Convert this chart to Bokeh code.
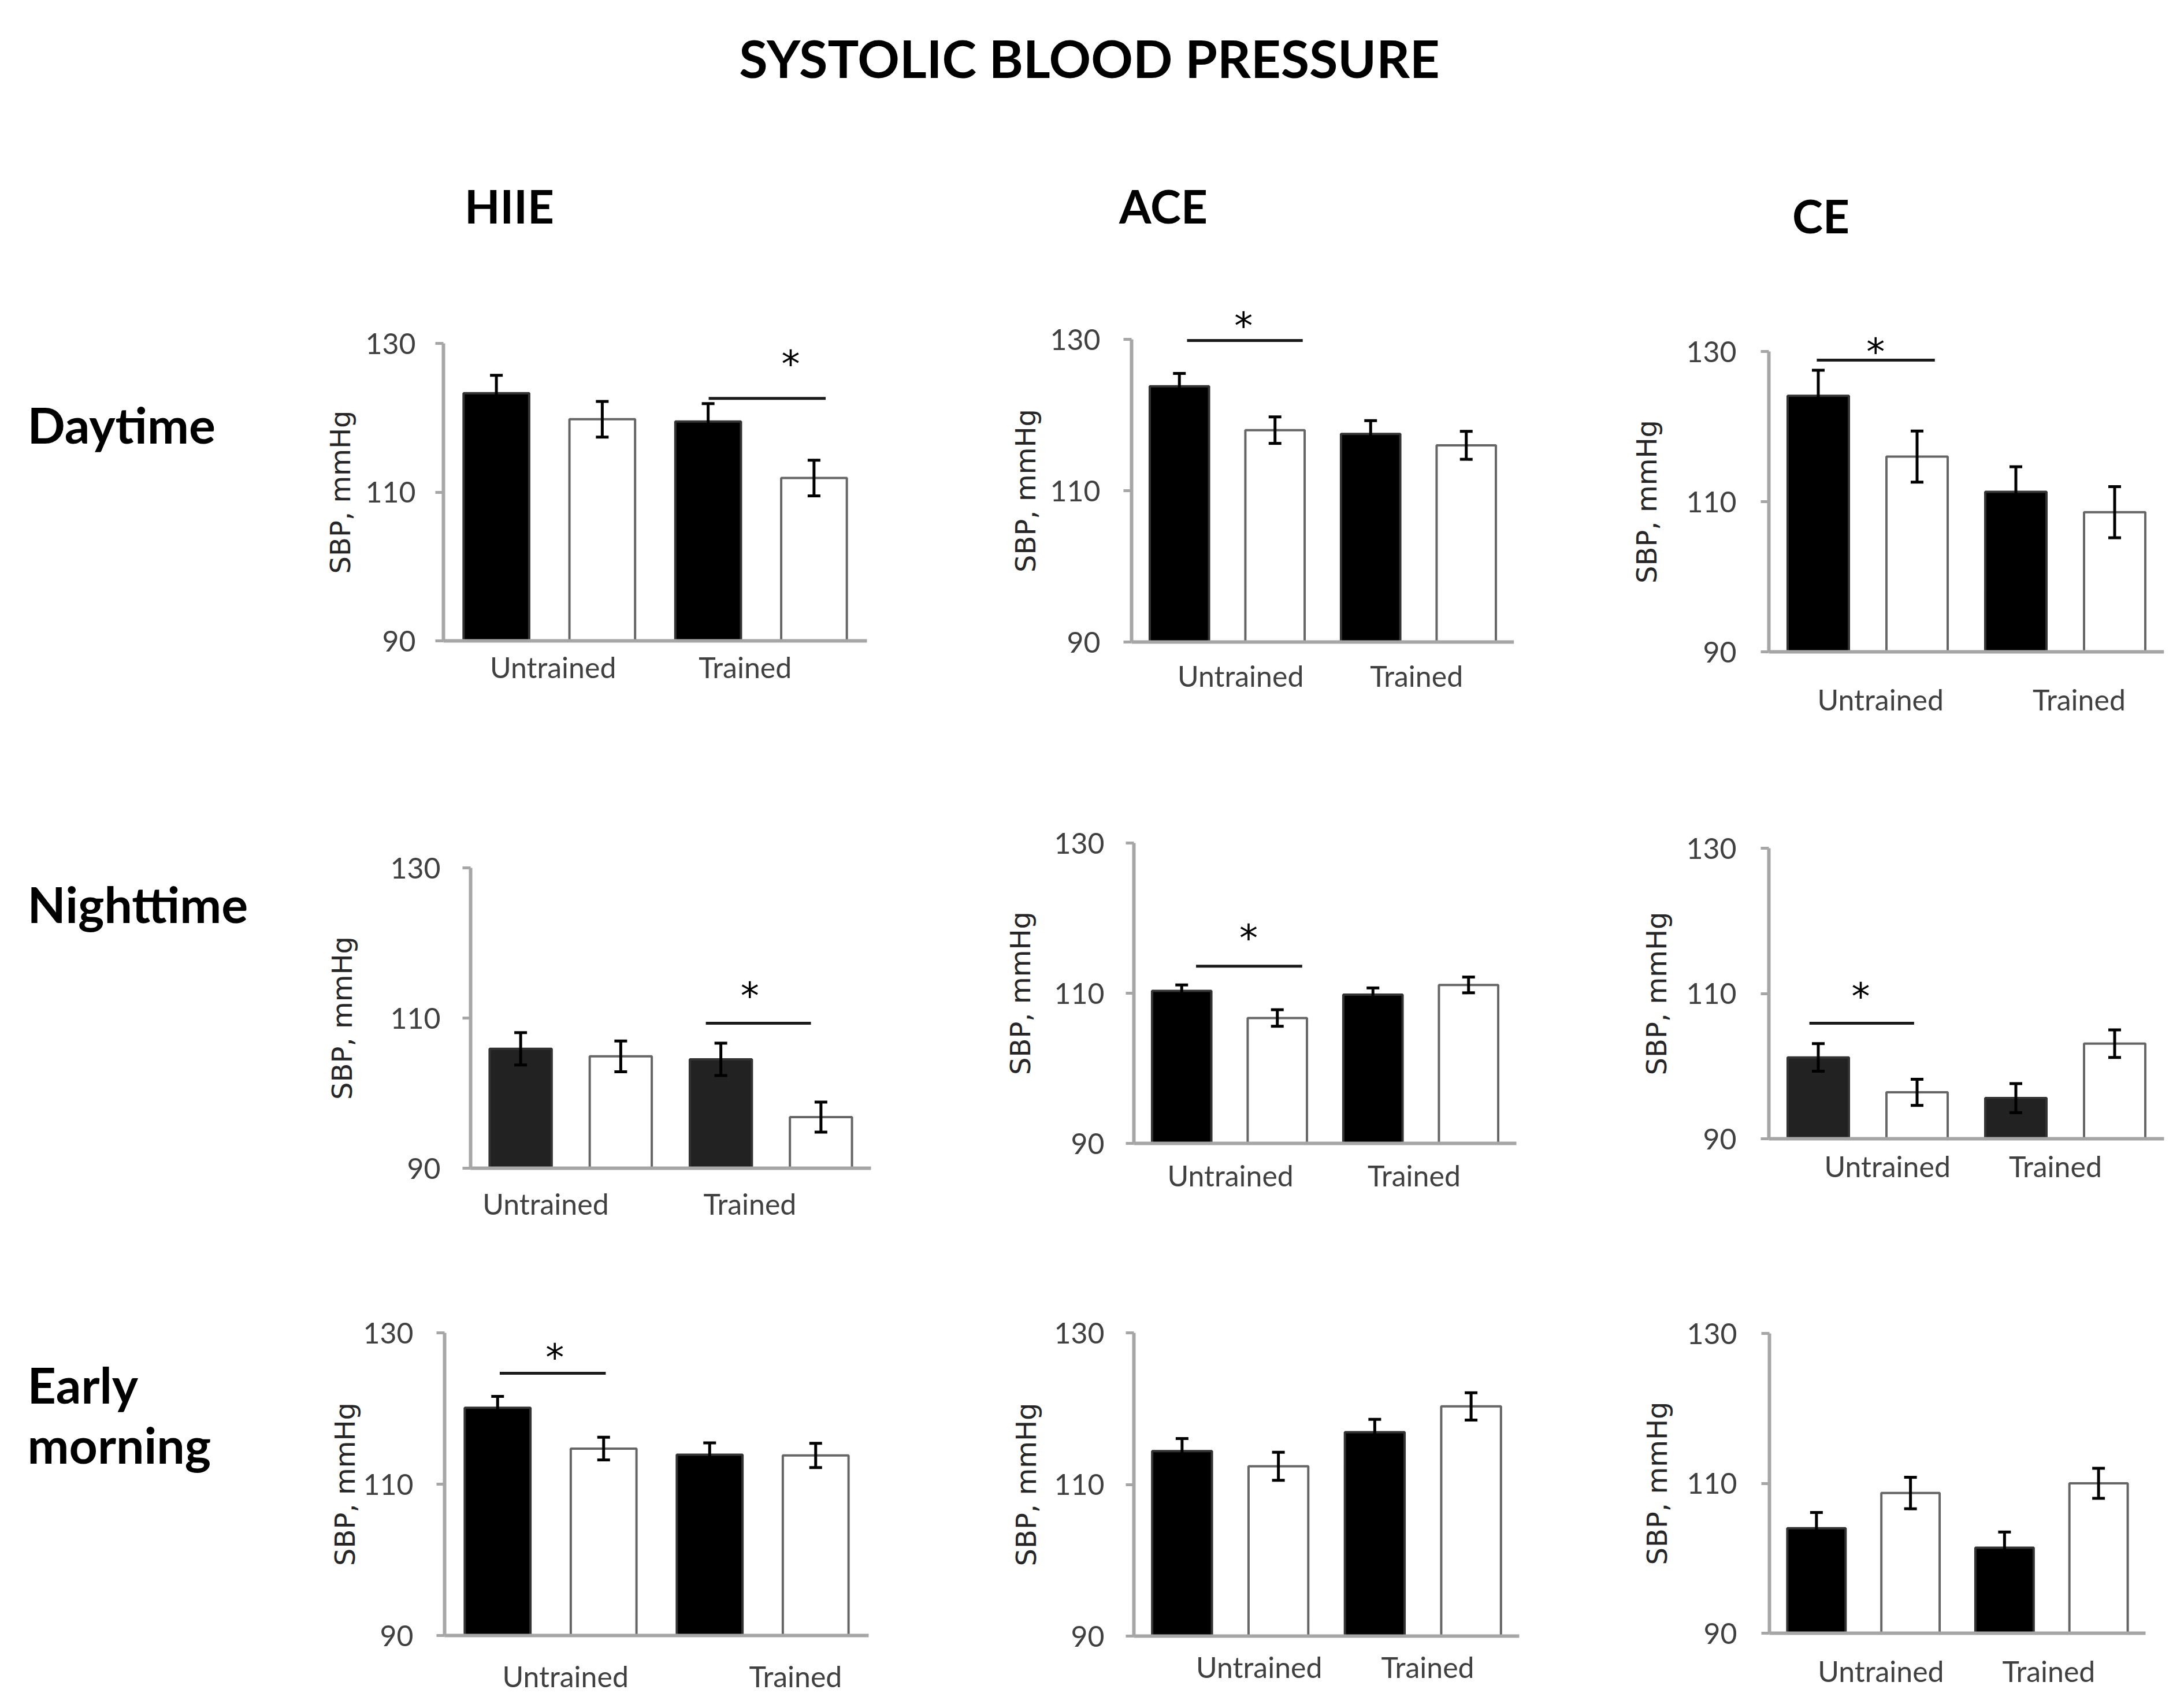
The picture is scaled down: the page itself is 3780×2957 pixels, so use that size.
from bokeh.plotting import figure
from bokeh.models import Range1d, FixedTicker, ColumnDataSource, Whisker, TeeHead
from bokeh.layouts import row, column
from bokeh.embed import file_html
from bokeh.resources import INLINE
from bokeh.core.properties import value

# ---------------- data ----------------
exercises = ["HIIE", "ACE", "CE"]
periods = ["Daytime", "Nighttime", "Early morning"]
groups = ["Untrained", "Trained"]

# bar order: Untrained (black), Untrained (white), Trained (black), Trained (white)
day_hiie_mean = [123.3, 119.8, 119.5, 111.9]
day_hiie_sem = [2.4, 2.4, 2.4, 2.4]
day_ace_mean = [123.8, 118.0, 117.5, 116.0]
day_ace_sem = [1.7, 1.75, 1.75, 1.85]
day_ce_mean = [124.1, 116.0, 111.3, 108.6]
day_ce_sem = [3.4, 3.4, 3.35, 3.4]

night_hiie_mean = [105.9, 104.9, 104.5, 96.8]
night_hiie_sem = [2.15, 2.05, 2.15, 2.0]
night_ace_mean = [110.3, 106.7, 109.8, 111.1]
night_ace_sem = [0.8, 1.1, 0.9, 1.05]
night_ce_mean = [101.2, 96.4, 95.6, 103.1]
night_ce_sem = [1.9, 1.8, 2.0, 1.9]

morning_hiie_mean = [120.1, 114.7, 113.9, 113.8]
morning_hiie_sem = [1.5, 1.5, 1.55, 1.6]
morning_ace_mean = [114.4, 112.4, 116.9, 120.3]
morning_ace_sem = [1.65, 1.85, 1.7, 1.8]
morning_ce_mean = [104.0, 108.7, 101.4, 110.0]
morning_ce_sem = [2.1, 2.1, 2.1, 2.0]

# significance brackets: (line x from, line x to, line y, star x, star y)
sig_day_hiie = (3.005, 4.11, 122.6, 3.78, 128.5)
sig_day_ace = (1.08, 2.29, 129.85, 1.67, 133.0)
sig_day_ce = (0.985, 2.18, 128.85, 1.58, 131.2)
sig_night_hiie = (2.85, 3.90, 109.3, 3.29, 114.2)
sig_night_ace = (1.15, 2.26, 113.6, 1.70, 118.6)
sig_night_ce = (0.91, 1.97, 105.9, 1.43, 110.9)
sig_morning_hiie = (1.02, 2.02, 124.65, 1.54, 128.0)

y_ticks = [90, 110, 130]

panel_data = {
    (0, 0): (day_hiie_mean, day_hiie_sem, sig_day_hiie),
    (0, 1): (day_ace_mean, day_ace_sem, sig_day_ace),
    (0, 2): (day_ce_mean, day_ce_sem, sig_day_ce),
    (1, 0): (night_hiie_mean, night_hiie_sem, sig_night_hiie),
    (1, 1): (night_ace_mean, night_ace_sem, sig_night_ace),
    (1, 2): (night_ce_mean, night_ce_sem, sig_night_ce),
    (2, 0): (morning_hiie_mean, morning_hiie_sem, sig_morning_hiie),
    (2, 1): (morning_ace_mean, morning_ace_sem, None),
    (2, 2): (morning_ce_mean, morning_ce_sem, None),
}

# ---------------- layout (page pixel coordinates) ----------------
bands = [(470, 1290), (1290, 2150), (2150, 2949)]
cols = [(8, 520), (520, 1600), (1600, 2740), (2740, 3772)]
# axis x, axis end, y of 130, y of 90
geom = {
    (0, 0): (775, 1508, 602, 1117),
    (0, 1): (1966, 2628, 595, 1119),
    (0, 2): (3069, 3753, 616, 1136),
    (1, 0): (822, 1515, 1510, 2030),
    (1, 1): (1970, 2632, 1467, 1987),
    (1, 2): (3069, 3753, 1476, 1979),
    (2, 0): (777, 1511, 2315, 2839),
    (2, 1): (1970, 2637, 2315, 2840),
    (2, 2): (3070, 3721, 2316, 2835),
}
# extra frame padding (px) above 130 and below 90, room for stars above 130
frame_ext = {(0, 1): 58, (0, 2): 36}
label_pos = {
    (0, 0): (1.535, 3.35), (0, 1): (1.64, 3.48), (0, 2): (1.63, 3.64),
    (1, 0): (1.25, 3.29), (1, 1): (1.51, 3.43), (1, 2): (1.70, 3.40),
    (2, 0): (1.64, 3.81), (2, 1): (1.80, 3.55), (2, 2): (1.685, 3.47),
}
xlab_gap = {(0, 0): 45, (0, 1): 58, (0, 2): 82, (1, 0): 61, (1, 1): 55,
            (1, 2): 47, (2, 0): 70, (2, 1): 53, (2, 2): 65}
ytick_gap = {(0, 0): 48, (0, 1): 54, (0, 2): 56, (1, 0): 52, (1, 1): 51,
             (1, 2): 56, (2, 0): 54, (2, 1): 51, (2, 2): 56}
ylab_dist = {(0, 0): 157, (0, 1): 162, (0, 2): 190, (1, 0): 201, (1, 1): 175,
             (1, 2): 173, (2, 0): 150, (2, 1): 165, (2, 2): 173}

AXIS_GRAY = "#a6a6a6"
TICK_OUT = 14
TICK_LABEL_W = 97
LABEL_FONT = "Lato"
BOLD_FONT = "Lato"


def blank(x0, x1, y0, y1):
    f = figure(width=x1 - x0, height=y1 - y0, x_range=Range1d(x0, x1),
               y_range=Range1d(y1, y0), x_axis_type=None, y_axis_type=None,
               output_backend="svg", toolbar_location=None, min_border=0)
    f.frame_align = False
    f.grid.visible = False
    f.outline_line_color = None
    return f


def bold_text(f, x, y, txt, size, align="left"):
    # y is the visual baseline; svg text sits ~0.285 em lower, compensate
    f.text(x=[x], y=[y - 0.285 * size], text=[txt], text_font=value(BOLD_FONT),
           text_font_style="bold", text_font_size=f"{size}px",
           text_color="#000000", text_align=align, text_baseline="alphabetic")


def panel(r, c):
    means, sems, sig = panel_data[(r, c)]
    col_l, col_r = cols[c + 1]
    band_t, band_b = bands[r]
    ax, ae, y130, y90 = geom[(r, c)]
    e = frame_ext.get((r, c), 0)
    ppu = (y90 - y130) / 40.0
    ft, fb = y130 - e, y90 + e
    p = figure(width=col_r - col_l, height=band_b - band_t,
               x_range=Range1d(0.5, 4.5),
               y_range=Range1d(90 - e / ppu, 130 + e / ppu),
               min_border_left=ax - col_l, min_border_right=col_r - ae,
               min_border_top=ft - band_t, min_border_bottom=band_b - fb,
               output_backend="svg", toolbar_location=None)
    p.frame_align = False
    p.grid.visible = False
    p.outline_line_color = None

    dark = "#222222" if (r == 1 and c != 1) else "#000000"
    src = ColumnDataSource(dict(
        x=[1, 2, 3, 4],
        top=means,
        upper=[m + s for m, s in zip(means, sems)],
        lower=[m - s for m, s in zip(means, sems)],
        fill=[dark, "#ffffff", dark, "#ffffff"],
        line=["#333333", "#666666", "#333333", "#666666"],
    ))
    p.vbar(x="x", top="top", bottom=90, width=0.62, fill_color="fill",
           line_color="line", line_width=4, source=src)
    if e > 0:
        # base line at 90 when the frame extends below it
        p.segment(x0=[0.5], y0=[90], x1=[4.5], y1=[90], line_color=AXIS_GRAY,
                  line_width=6)
    w = Whisker(source=src, base="x", upper="upper", lower="lower",
                line_width=5, line_color="#000000", level="annotation",
                upper_head=TeeHead(size=22, line_width=5, line_color="#000000"),
                lower_head=TeeHead(size=22, line_width=5, line_color="#000000"))
    p.add_layout(w)

    if sig is not None:
        x0, x1, yl, xs, ys = sig
        p.segment(x0=[x0], y0=[yl], x1=[x1], y1=[yl], line_width=5,
                  line_color="#1a1a1a")
        p.text(x=[xs], y=[ys], text=["*"], text_font=value("DejaVu Sans"),
               text_font_size="64px", text_color="#000000",
               text_align="center", text_baseline="middle", y_offset=16)

    # x axis: category labels
    lp = label_pos[(r, c)]
    p.xaxis.ticker = FixedTicker(ticks=list(lp))
    p.xaxis.major_label_overrides = {lp[0]: groups[0], lp[1]: groups[1]}
    p.xaxis.axis_line_color = AXIS_GRAY if e == 0 else None
    p.xaxis.axis_line_width = 6
    p.xaxis.major_tick_line_color = None
    p.xaxis.minor_tick_line_color = None
    p.xaxis.major_tick_out = 0
    p.xaxis.major_tick_in = 0
    p.xaxis.major_label_text_font = LABEL_FONT
    p.xaxis.major_label_text_font_size = "50px"
    p.xaxis.major_label_text_color = "#404040"
    p.xaxis.major_label_standoff = xlab_gap[(r, c)] - 30 - e

    # y axis
    p.yaxis.ticker = FixedTicker(ticks=y_ticks)
    p.yaxis.bounds = (90, 130)
    p.yaxis.axis_line_color = AXIS_GRAY
    p.yaxis.axis_line_width = 6
    p.yaxis.major_tick_out = TICK_OUT
    p.yaxis.major_tick_in = 0
    p.yaxis.major_tick_line_color = AXIS_GRAY
    p.yaxis.major_tick_line_width = 5
    p.yaxis.minor_tick_line_color = None
    p.yaxis.major_label_text_font = LABEL_FONT
    p.yaxis.major_label_text_font_size = "50px"
    p.yaxis.major_label_text_color = "#404040"
    std = ytick_gap[(r, c)] - TICK_OUT
    p.yaxis.major_label_standoff = std
    p.yaxis.axis_label = "SBP, mmHg"
    p.yaxis.axis_label_text_font = "DejaVu Sans"
    p.yaxis.axis_label_text_font_size = "48px"
    p.yaxis.axis_label_text_font_style = "normal"
    p.yaxis.axis_label_text_color = "#262626"
    p.yaxis.axis_label_standoff = max(ylab_dist[(r, c)] - TICK_OUT - std - TICK_LABEL_W, 0)
    return p


# header
header = blank(8, 3772, 8, bands[0][0])
bold_text(header, 1893, 133, "SYSTOLIC BLOOD PRESSURE", 90, "center")
bold_text(header, 889, 386, exercises[0], 80, "center")
bold_text(header, 2021, 386, exercises[1], 80, "center")
bold_text(header, 3159, 403, exercises[2], 80, "center")

rows = []
row_label_baselines = [[767], [1597], [2429, 2533]]
for r in range(3):
    bt, bb = bands[r]
    lab = blank(cols[0][0], cols[0][1], bt, bb)
    words = [periods[r]] if r < 2 else periods[r].split(" ")
    for wtxt, yb in zip(words, row_label_baselines[r]):
        bold_text(lab, 55, yb, wtxt, 86, "left")
    rows.append(row(lab, panel(r, 0), panel(r, 1), panel(r, 2)))

layout = column(header, *rows)
open("out.html", "w").write(file_html(layout, INLINE))
